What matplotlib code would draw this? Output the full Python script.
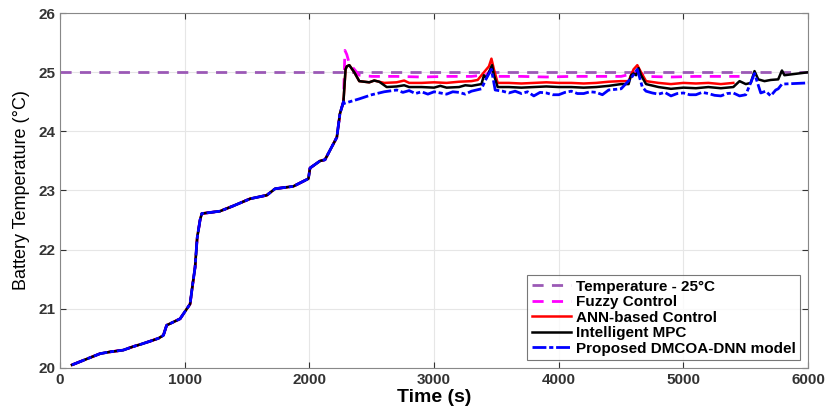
import matplotlib.pyplot as plt

# shared heating curve (all controllers overlap here)
t_rise = [96, 214, 321, 400, 507, 587, 650, 722, 790, 829, 855, 963, 1043, 1063, 1083,
          1100, 1123, 1137, 1283, 1390, 1524, 1658, 1725, 1871, 1992, 2005, 2085,
          2125, 2220, 2245, 2273]
temp_rise = [20.05, 20.15, 20.24, 20.27, 20.3, 20.36, 20.4, 20.45, 20.5, 20.55, 20.72,
             20.83, 21.08, 21.4, 21.7, 22.2, 22.5, 22.61, 22.65, 22.74, 22.86, 22.92,
             23.03, 23.07, 23.2, 23.38, 23.5, 23.52, 23.9, 24.3, 24.5]

setpoint = 25.0

t_fuzzy = [2285, 2300, 2320, 2400, 2500, 2700, 2900, 3100, 3300, 3420, 3460, 3500,
           3700, 3900, 4100, 4300, 4500, 4600, 4640, 4690, 4900, 5100, 5300, 5450]
temp_fuzzy = [25.37, 25.3, 25.15, 24.95, 24.93, 24.93, 24.92, 24.93, 24.93, 24.96,
              25.05, 24.93, 24.93, 24.92, 24.93, 24.93, 24.93, 24.98, 25.02, 24.93,
              24.92, 24.93, 24.93, 24.93]

t_mpc = [2290, 2300, 2320, 2360, 2400, 2480, 2520, 2560, 2620, 2700, 2760, 2800, 2900,
         3000, 3050, 3100, 3200, 3250, 3300, 3380, 3400, 3420, 3450, 3465, 3480, 3510,
         3600, 3700, 3800, 3900, 4000, 4100, 4200, 4300, 4400, 4500, 4560, 4580, 4600,
         4620, 4640, 4660, 4700, 4800, 4900, 5000, 5100, 5200, 5300, 5400, 5450, 5500,
         5540, 5570, 5600, 5650, 5700, 5760, 5790, 5810, 6000]
temp_mpc = [25.05, 25.1, 25.12, 25.0, 24.85, 24.83, 24.86, 24.84, 24.75, 24.76, 24.78,
            24.75, 24.75, 24.74, 24.77, 24.74, 24.75, 24.78, 24.77, 24.8, 24.95, 24.9,
            25.05, 25.12, 24.95, 24.75, 24.75, 24.74, 24.75, 24.76, 24.75, 24.75, 24.74,
            24.75, 24.77, 24.8, 24.8, 24.95, 24.98, 24.95, 25.07, 24.95, 24.8, 24.75,
            24.72, 24.74, 24.73, 24.75, 24.73, 24.75, 24.85, 24.8, 24.82, 25.02, 24.88,
            24.85, 24.87, 24.88, 25.03, 24.95, 25.0]

t_ann = [2290, 2300, 2320, 2360, 2400, 2480, 2520, 2560, 2600, 2700, 2760, 2800, 2900,
         3000, 3100, 3200, 3300, 3350, 3400, 3440, 3460, 3480, 3510, 3600, 3700, 3800,
         3900, 4000, 4100, 4200, 4300, 4400, 4500, 4560, 4600, 4630, 4660, 4700, 4800,
         4900, 5000, 5100, 5200, 5300, 5400]
temp_ann = [25.05, 25.1, 25.12, 25.0, 24.85, 24.83, 24.86, 24.84, 24.82, 24.83, 24.86,
            24.82, 24.82, 24.83, 24.82, 24.84, 24.85, 24.87, 25.0, 25.1, 25.23, 25.05,
            24.82, 24.82, 24.81, 24.82, 24.83, 24.82, 24.82, 24.81, 24.82, 24.84, 24.85,
            24.85, 25.05, 25.12, 25.0, 24.85, 24.82, 24.8, 24.82, 24.81, 24.82, 24.8,
            24.82]

t_dnn = [2400, 2500, 2600, 2700, 2750, 2800, 2850, 2900, 2950, 3000, 3050, 3100, 3150,
         3200, 3250, 3300, 3380, 3420, 3460, 3490, 3550, 3600, 3650, 3700, 3750, 3800,
         3850, 3900, 3950, 4000, 4050, 4100, 4150, 4200, 4250, 4300, 4350, 4400, 4500,
         4580, 4630, 4670, 4700, 4750, 4800, 4850, 4900, 4950, 5000, 5050, 5100, 5150,
         5200, 5250, 5300, 5350, 5400, 5450, 5500, 5570, 5620, 5660, 5700, 5740, 5760,
         5790, 6000]
temp_dnn = [24.55, 24.62, 24.67, 24.7, 24.66, 24.69, 24.64, 24.67, 24.63, 24.67, 24.65,
            24.63, 24.67, 24.66, 24.63, 24.68, 24.72, 24.9, 25.05, 24.7, 24.68, 24.65,
            24.68, 24.64, 24.67, 24.6, 24.66, 24.65, 24.62, 24.62, 24.66, 24.68, 24.64,
            24.64, 24.67, 24.66, 24.62, 24.7, 24.72, 24.9, 25.05, 24.75, 24.68, 24.65,
            24.63, 24.66, 24.6, 24.64, 24.65, 24.62, 24.62, 24.66, 24.64, 24.61, 24.6,
            24.64, 24.65, 24.6, 24.62, 24.98, 24.65, 24.68, 24.6, 24.7, 24.72, 24.8,
            24.82]


def main():
    plt.rcParams["font.family"] = ["Liberation Sans", "DejaVu Sans"]
    fig = plt.figure(figsize=(8.28, 4.11), dpi=100)
    ax = fig.add_axes([0.0725, 0.105, 0.9035, 0.863])

    ax.axhline(setpoint, color="#9b59b6", ls=(0, (4, 3)), lw=2,
               label="Temperature - 25°C")
    ax.plot(t_rise + t_fuzzy, temp_rise + temp_fuzzy, color="#ff00ff",
            ls=(0, (4, 3)), lw=2, label="Fuzzy Control")
    ax.plot(t_rise + t_ann, temp_rise + temp_ann, color="red", lw=1.8,
            label="ANN-based Control")
    ax.plot(t_rise + t_mpc, temp_rise + temp_mpc, color="black", lw=1.8,
            label="Intelligent MPC")
    ax.plot(t_rise + [2273] + t_dnn, temp_rise + [24.47] + temp_dnn, color="blue",
            ls=(0, (5, 1, 1.5, 1)), lw=2, label="Proposed DMCOA-DNN model")

    ax.set_xlim(0, 6000)
    ax.set_ylim(20, 26)
    ax.set_xticks([0, 1000, 2000, 3000, 4000, 5000, 6000])
    ax.set_yticks([20, 21, 22, 23, 24, 25, 26])
    ax.grid(True, color="#e6e6e6", lw=0.8)
    ax.tick_params(direction="in", length=4, colors="#333333", labelsize=11,
                   top=True, right=True)
    for lbl in ax.get_xticklabels() + ax.get_yticklabels():
        lbl.set_fontweight("bold")
    for s in ax.spines.values():
        s.set_color("#888888")
        s.set_linewidth(0.8)

    ax.set_xlabel("Time (s)", fontsize=14, fontweight="bold", labelpad=2)
    ax.set_ylabel("Battery Temperature (°C)", fontsize=13, labelpad=6)

    leg = ax.legend(loc="lower right", frameon=True, fancybox=False,
                    borderpad=0.3, labelspacing=0.1, handlelength=2.6,
                    handletextpad=0.3, borderaxespad=0.5,
                    prop={"weight": "bold", "size": 11})
    leg.get_frame().set_edgecolor("#555555")
    leg.get_frame().set_linewidth(0.8)

    fig.savefig("out.png", dpi=100)
    plt.close(fig)


if __name__ == "__main__":
    main()
